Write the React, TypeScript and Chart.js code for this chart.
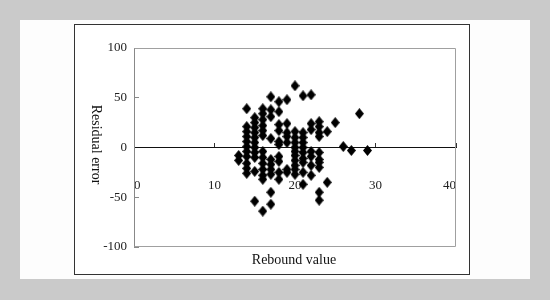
import React, { useEffect, useRef } from 'react';
import { Chart, registerables } from 'chart.js';

Chart.register(...registerables);

// Rebound value (x) and residual error (y) for each sample point
const reboundValues = [
  13, 13,
  14, 14, 14, 14, 14, 14, 14, 14, 14, 14, 14,
  15, 15, 15, 15, 15, 15, 15, 15, 15, 15, 15,
  16, 16, 16, 16, 16, 16, 16, 16, 16, 16, 16, 16, 16,
  17, 17, 17, 17, 17, 17, 17, 17, 17, 17,
  18, 18, 18, 18, 18, 18, 18, 18, 18, 18,
  19, 19, 19, 19, 19, 19, 19,
  20, 20, 20, 20, 20, 20, 20, 20, 20, 20, 20,
  21, 21, 21, 21, 21, 21, 21, 21, 21, 21,
  22, 22, 22, 22, 22, 22, 22,
  23, 23, 23, 23, 23, 23, 23, 23, 23, 23,
  24, 24,
  25,
  26,
  27,
  28,
  29,
];
const residualErrors = [
  -8, -13,
  39, 21, 16, 11, 6, 1, -4, -9, -16, -21, -26,
  30, 25, 20, 15, 10, 5, 0, -5, -10, -24, -54,
  39, 34, 28, 22, 17, 12, -4, -10, -16, -22, -28, -32, -64,
  51, 38, 31, 9, -12, -17, -22, -27, -45, -57,
  46, 36, 23, 17, 6, 3, -9, -14, -25, -32,
  48, 24, 15, 11, 5, -22, -25,
  62, 16, 10, 5, 0, -4, -8, -13, -18, -22, -27,
  52, 15, 10, 5, 0, -5, -11, -15, -25, -37,
  53, 24, 18, -4, -9, -18, -28,
  26, 21, 15, 11, -5, -12, -15, -20, -45, -53,
  16, -35,
  25,
  1,
  -3,
  34,
  -3,
];

const xTicks = [0, 10, 20, 30, 40];
const yTicks = [-100, -50, 0, 50, 100];
const xTitle = 'Rebound value';
const yTitle = 'Residual error';

const FONT = '"Liberation Serif", "Times New Roman", serif';

const framePlugin = {
  id: 'frameAndTitles',
  beforeDatasetsDraw(chart: any) {
    const { ctx, chartArea: a } = chart;
    ctx.save();
    ctx.strokeStyle = '#a0a0a0';
    ctx.lineWidth = 1;
    ctx.beginPath();
    const l = Math.round(a.left) + 0.5;
    const t = Math.round(a.top) + 0.5;
    const r = Math.round(a.right) - 0.5;
    const b = Math.round(a.bottom) - 0.5;
    ctx.moveTo(l, t);
    ctx.lineTo(r, t);
    ctx.lineTo(r, b);
    ctx.lineTo(l, b);
    ctx.stroke();
    ctx.restore();
  },
  afterDraw(chart: any) {
    const { ctx, chartArea: a } = chart;
    ctx.save();
    ctx.fillStyle = '#111';
    ctx.font = `14px ${FONT}`;
    ctx.textAlign = 'center';
    ctx.textBaseline = 'middle';
    ctx.fillText(xTitle, (a.left + a.right) / 2 - 1, a.bottom + 13);
    ctx.translate(96, (a.top + a.bottom) / 2 - 3);
    ctx.rotate(Math.PI / 2);
    ctx.fillText(yTitle, 0, 0);
    ctx.restore();
  },
};

export default function App() {
  const ref = useRef<HTMLCanvasElement | null>(null);

  useEffect(() => {
    if (!ref.current) return;
    const diamond = document.createElement('canvas');
    diamond.width = 9;
    diamond.height = 11;
    const dctx = diamond.getContext('2d')!;
    dctx.fillStyle = '#000';
    dctx.beginPath();
    dctx.moveTo(4.5, 0);
    dctx.lineTo(9, 5.5);
    dctx.lineTo(4.5, 11);
    dctx.lineTo(0, 5.5);
    dctx.closePath();
    dctx.fill();

    const points = reboundValues.map((x, i) => ({ x, y: residualErrors[i] }));

    const chart = new Chart(ref.current, {
      type: 'scatter',
      data: {
        datasets: [
          {
            data: points,
            pointStyle: diamond as any,
            pointRadius: 5,
            backgroundColor: '#000',
            borderColor: '#000',
          },
        ],
      },
      options: {
        animation: false,
        responsive: false,
        events: [],
        layout: { padding: { left: 0, top: 48, right: 94, bottom: 53 } },
        plugins: {
          legend: { display: false },
          tooltip: { enabled: false },
        },
        scales: {
          x: {
            type: 'linear',
            position: { y: 0 } as any,
            min: 0,
            max: 40,
            afterBuildTicks: (s: any) => {
              s.ticks = xTicks.map((v) => ({ value: v }));
            },
            grid: {
              drawOnChartArea: false,
              drawTicks: true,
              tickLength: -5,
              color: '#333',
            },
            border: { display: true, color: '#111', width: 1 },
            ticks: {
              align: 'inner',
              padding: 35,
              maxRotation: 0,
              color: '#222',
              font: { family: FONT, size: 13 },
              callback: (v: any) => String(v),
            },
          },
          y: {
            type: 'linear',
            position: 'left',
            min: -100,
            max: 100,
            afterBuildTicks: (s: any) => {
              s.ticks = yTicks.map((v) => ({ value: v }));
            },
            afterFit: (s: any) => {
              s.width = 134;
            },
            grid: {
              drawOnChartArea: false,
              drawTicks: true,
              tickLength: -5,
              color: '#888',
            },
            border: { display: true, color: '#888', width: 1 },
            ticks: {
              padding: 12,
              color: '#222',
              font: { family: FONT, size: 13 },
              callback: (v: any) => String(v),
            },
          },
        },
      },
      plugins: [framePlugin],
    });
    return () => chart.destroy();
  }, []);

  return (
    <div
      style={{
        position: 'fixed',
        left: 0,
        top: 0,
        width: 550,
        height: 300,
        background: '#cacaca',
        overflow: 'hidden',
      }}
    >
      <div
        style={{
          position: 'absolute',
          left: 20,
          top: 20,
          width: 510,
          height: 259,
          background: '#fdfdfd',
        }}
      />
      <div
        style={{
          position: 'absolute',
          left: 74,
          top: 24,
          width: 394,
          height: 249,
          border: '1px solid #333',
          background: '#ffffff',
        }}
      />
      <canvas
        ref={ref}
        width={550}
        height={300}
        style={{ position: 'absolute', left: 0, top: 0 }}
      />
    </div>
  );
}
